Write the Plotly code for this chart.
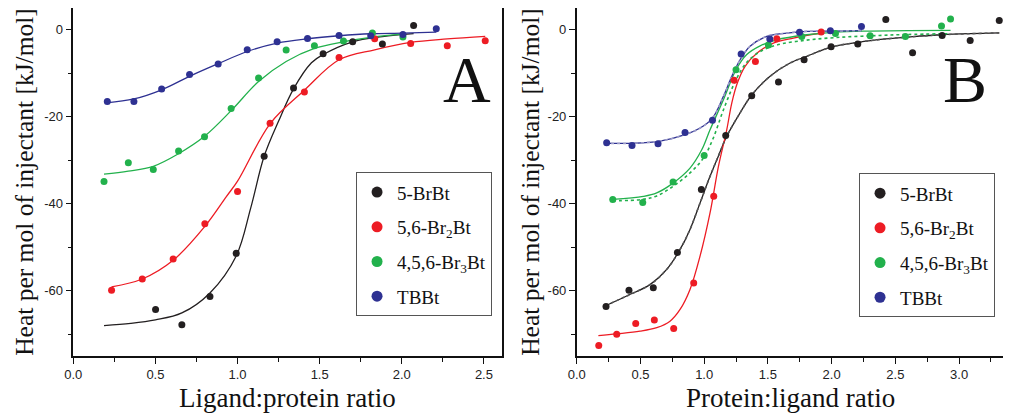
import plotly.graph_objects as go

# ---------------- Data: Panel A (Ligand:protein ratio) ----------------
names = ["5-BrBt", "5,6-Br<sub>2</sub>Bt", "4,5,6-Br<sub>3</sub>Bt", "TBBt"]
colors = ["#231f20", "#ed1c24", "#22b14c", "#2e3192"]

a_black_x = [0.501, 0.661, 0.832, 0.992, 1.162, 1.341, 1.521, 1.701, 1.882, 2.072]
a_black_y = [-64.3, -67.8, -61.3, -51.4, -29.1, -13.4, -5.5, -2.76, -3.3, 1.0]
a_red_x = [0.233, 0.42, 0.608, 0.801, 1.0, 1.198, 1.407, 1.618, 1.835, 2.054, 2.277, 2.508]
a_red_y = [-59.9, -57.3, -52.7, -44.6, -37.2, -21.5, -14.3, -6.4, -2.07, -3.14, -3.67, -2.53]
a_green_x = [0.187, 0.335, 0.487, 0.641, 0.799, 0.961, 1.128, 1.296, 1.468, 1.645, 1.821, 2.007]
a_green_y = [-34.9, -30.6, -32.1, -27.9, -24.6, -18.1, -11.1, -4.67, -3.67, -2.6, -0.77, -1.68]
a_blue_x = [0.207, 0.369, 0.538, 0.708, 0.882, 1.059, 1.241, 1.426, 1.618, 1.811, 2.007, 2.21]
a_blue_y = [-16.5, -16.5, -13.6, -10.3, -7.9, -4.6, -2.76, -2.0, -1.3, -1.4, -1.07, 0.23]

# fitted curves
a_black_fx = [0.187, 0.35, 0.5, 0.661, 0.832, 0.992, 1.08, 1.162, 1.25, 1.341, 1.45, 1.521, 1.701, 1.882, 2.072]
a_black_fy = [-68.0, -67.5, -66.7, -65.1, -60.5, -52.0, -41.0, -29.1, -21.0, -13.6, -7.6, -5.7, -2.76, -1.6, -0.9]
a_red_fx = [0.233, 0.42, 0.608, 0.801, 0.933, 1.0, 1.2, 1.407, 1.618, 1.835, 2.054, 2.277, 2.508]
a_red_fy = [-59.1, -57.3, -53.0, -45.2, -38.3, -34.8, -21.5, -13.9, -6.9, -4.6, -2.9, -2.1, -1.5]
a_green_fx = [0.187, 0.335, 0.487, 0.641, 0.799, 0.961, 1.128, 1.296, 1.468, 1.645, 1.821, 2.007]
a_green_fy = [-33.2, -32.5, -31.4, -28.5, -24.5, -18.6, -11.9, -7.3, -4.3, -2.76, -1.68, -0.99]
a_blue_fx = [0.2, 0.369, 0.538, 0.708, 0.882, 1.059, 1.241, 1.426, 1.618, 1.811, 2.007, 2.21]
a_blue_fy = [-16.8, -15.9, -13.8, -10.7, -7.8, -5.0, -3.06, -2.07, -1.38, -0.92, -0.77, -0.54]

# ---------------- Data: Panel B (Protein:ligand ratio) ----------------
b_black_x = [0.23, 0.41, 0.601, 0.79, 0.978, 1.169, 1.373, 1.583, 1.784, 1.996, 2.205, 2.425, 2.635, 2.867, 3.087, 3.315]
b_black_y = [-63.6, -59.9, -59.3, -51.2, -36.7, -24.3, -15.2, -12.0, -6.9, -3.9, -3.3, 2.37, -5.3, -1.3, -2.45, 2.1]
b_red_x = [0.173, 0.314, 0.463, 0.609, 0.761, 0.918, 1.075, 1.235, 1.402, 1.57, 1.918]
b_red_y = [-72.6, -70.0, -67.5, -66.7, -68.7, -58.2, -38.3, -11.6, -7.3, -2.07, -0.54]
b_green_x = [0.283, 0.518, 0.756, 1.0, 1.25, 1.504, 1.766, 2.03, 2.302, 2.579, 2.862, 2.933]
b_green_y = [-39.0, -39.7, -35.0, -28.9, -9.2, -3.5, -1.53, -0.84, -1.38, -1.53, 0.84, 2.5]
b_blue_x = [0.235, 0.434, 0.638, 0.85, 1.065, 1.29, 1.515, 1.748, 1.99, 2.234]
b_blue_y = [-26.0, -26.6, -26.2, -23.6, -20.8, -5.6, -2.1, -0.6, -0.23, 0.77]

b_black_fx = [0.222, 0.392, 0.575, 0.706, 0.811, 0.889, 0.968, 1.046, 1.112, 1.177, 1.282, 1.373, 1.517,
              1.674, 1.805, 1.996, 2.205, 2.425, 2.635, 2.867, 3.087, 3.315]
b_black_fy = [-63.5, -61.2, -58.6, -55.1, -50.5, -45.9, -39.8, -33.7, -29.0, -24.5, -19.1, -15.0, -10.7,
              -7.65, -6.1, -4.0, -2.9, -2.1, -1.6, -1.15, -0.9, -0.73]
b_red_fx = [0.17, 0.314, 0.497, 0.628, 0.732, 0.811, 0.889, 0.968, 1.046, 1.112, 1.177, 1.217, 1.261,
            1.321, 1.413, 1.543, 1.70, 1.831, 1.918]
b_red_fy = [-70.3, -69.9, -69.3, -68.5, -67.0, -64.3, -59.7, -52.0, -42.1, -31.4, -23.0, -16.8, -12.2,
            -8.4, -5.4, -3.06, -1.9, -1.15, -0.8]
b_green_fx = [0.283, 0.523, 0.628, 0.758, 0.889, 0.981, 1.046, 1.151, 1.25, 1.334, 1.439, 1.57, 1.805,
              2.03, 2.3, 2.6, 2.933]
b_green_fy = [-39.0, -38.3, -37.5, -35.2, -31.8, -27.6, -23.0, -16.1, -9.2, -5.7, -3.7, -2.3, -1.15,
              -0.54, -0.3, -0.2, -0.15]
b_green_dx = [0.283, 0.518, 0.628, 0.756, 0.889, 0.994, 1.07, 1.15, 1.25, 1.334, 1.44, 1.57, 1.8,
              2.03, 2.3, 2.58, 2.93]
b_green_dy = [-39.3, -39.0, -38.2, -36.0, -32.9, -29.5, -25.0, -18.5, -11.5, -7.5, -5.0, -3.5, -2.4,
              -1.8, -1.4, -1.1, -0.9]
b_blue_fx = [0.222, 0.434, 0.654, 0.85, 0.968, 1.065, 1.151, 1.217, 1.282, 1.36, 1.491, 1.648, 1.805, 2.0, 2.234]
b_blue_fy = [-26.1, -26.1, -25.6, -24.1, -22.6, -20.3, -15.3, -10.7, -6.9, -3.8, -1.53, -0.77, -0.38, -0.3, -0.2]

# ---------------- Tick labels ----------------
y_tickvals = [0, -20, -40, -60]
y_ticktext = ["0", "-20", "-40", "-60"]
a_xtickvals = [0.0, 0.5, 1.0, 1.5, 2.0, 2.5]
a_xticktext = ["0.0", "0.5", "1.0", "1.5", "2.0", "2.5"]
b_xtickvals = [0.0, 0.5, 1.0, 1.5, 2.0, 2.5, 3.0]
b_xticktext = ["0.0", "0.5", "1.0", "1.5", "2.0", "2.5", "3.0"]

SERIF = "Liberation Serif, Times New Roman, serif"
SANS = "Liberation Sans, Arial, sans-serif"

fig = go.Figure()

panel_a_fits = [(a_black_fx, a_black_fy), (a_red_fx, a_red_fy), (a_green_fx, a_green_fy), (a_blue_fx, a_blue_fy)]
panel_a_pts = [(a_black_x, a_black_y), (a_red_x, a_red_y), (a_green_x, a_green_y), (a_blue_x, a_blue_y)]
panel_b_fits = [(b_black_fx, b_black_fy), (b_red_fx, b_red_fy), (b_green_fx, b_green_fy), (b_blue_fx, b_blue_fy)]
panel_b_pts = [(b_black_x, b_black_y), (b_red_x, b_red_y), (b_green_x, b_green_y), (b_blue_x, b_blue_y)]

def add_panel(fits, pts, xa, ya, dotted):
    for (fx, fy), c in zip(fits, colors):
        fig.add_trace(go.Scatter(x=fx, y=fy, mode="lines", xaxis=xa, yaxis=ya, showlegend=False,
                                 line=dict(color=c, width=1.3, shape="spline", smoothing=1.0),
                                 hoverinfo="skip"))
    for (dx, dy, c) in dotted:
        fig.add_trace(go.Scatter(x=dx, y=dy, mode="lines", xaxis=xa, yaxis=ya, showlegend=False,
                                 line=dict(color=c, width=1.6, dash="dot", shape="spline", smoothing=1.0),
                                 hoverinfo="skip"))
    for (px, py), c in zip(pts, colors):
        fig.add_trace(go.Scatter(x=px, y=py, mode="markers", xaxis=xa, yaxis=ya, showlegend=False,
                                 marker=dict(color=c, size=7)))

add_panel(panel_a_fits, panel_a_pts, "x", "y", [])
add_panel(panel_b_fits, panel_b_pts, "x2", "y2",
          [(b_black_fx, b_black_fy, "#555555"), (b_green_dx, b_green_dy, colors[2]),
           (b_blue_fx, b_blue_fy, "#9a9ac8")])

# legend entries
for leg, xa, ya in [("legend", "x", "y"), ("legend2", "x2", "y2")]:
    for i, (n, c) in enumerate(zip(names, colors)):
        fig.add_trace(go.Scatter(x=[None], y=[None], mode="markers", name=n, legend=leg,
                                 legendgroup=f"{leg}{i}", xaxis=xa, yaxis=ya,
                                 marker=dict(color=c, size=11)))

axis_common = dict(showline=True, linecolor="#111", linewidth=1.5, mirror=True, ticks="outside",
                   ticklen=6, tickwidth=1.2, tickcolor="#111", showgrid=False, zeroline=False,
                   automargin=False,
                   tickfont=dict(family=SANS, size=13, color="#222"))

title_font = dict(family=SERIF, size=25.5, color="#111")
xtitle_font = dict(family=SERIF, size=27, color="#111")

fig.update_layout(
    width=1003, height=405,
    margin=dict(l=0, r=0, t=0, b=57),
    paper_bgcolor="white", plot_bgcolor="white",
    xaxis=dict(domain=[0.0651, 0.4925], range=[0, 2.61], anchor="y",
               tickvals=a_xtickvals, ticktext=a_xticktext,
               minor=dict(ticks="outside", ticklen=4, dtick=0.25, tick0=0, tickcolor="#111"),
               **axis_common),
    yaxis=dict(domain=[0, 1], range=[-75, 5], anchor="x",
               tickvals=y_tickvals, ticktext=y_ticktext,
               minor=dict(ticks="outside", ticklen=4, dtick=10, tick0=0, tickcolor="#111"),
               title=dict(text="Heat per mol of injectant [kJ/mol]", font=title_font, standoff=3),
               **axis_common),
    xaxis2=dict(domain=[0.567, 0.994], range=[0, 3.36], anchor="y2",
                tickvals=b_xtickvals, ticktext=b_xticktext,
                minor=dict(ticks="outside", ticklen=4, dtick=0.25, tick0=0, tickcolor="#111"),
                **axis_common),
    yaxis2=dict(domain=[0, 1], range=[-75, 5], anchor="x2",
                tickvals=y_tickvals, ticktext=y_ticktext,
                minor=dict(ticks="outside", ticklen=4, dtick=10, tick0=0, tickcolor="#111"),
                title=dict(text="Heat per mol of injectant [kJ/mol]", font=title_font, standoff=1),
                **axis_common),
    legend=dict(x=0.347, y=0.528, xanchor="left", yanchor="top", bgcolor="white",
                bordercolor="#555", borderwidth=1, font=dict(family=SERIF, size=19, color="#111"),
                traceorder="grouped", tracegroupgap=7),
    legend2=dict(x=0.8485, y=0.525, xanchor="left", yanchor="top", bgcolor="white",
                 bordercolor="#555", borderwidth=1, font=dict(family=SERIF, size=19, color="#111"),
                 traceorder="grouped", tracegroupgap=7),
    annotations=[
        dict(text="A", x=0.4576, y=0.7945, xref="paper", yref="paper", xanchor="center", yanchor="middle",
             showarrow=False, font=dict(family=SERIF, size=66, color="#111")),
        dict(text="B", x=0.9541, y=0.7945, xref="paper", yref="paper", xanchor="center", yanchor="middle",
             showarrow=False, font=dict(family=SERIF, size=66, color="#111")),
        dict(text="Ligand:protein ratio", x=0.2787, y=-0.12, xref="paper", yref="paper",
             xanchor="center", yanchor="middle", showarrow=False, font=xtitle_font),
        dict(text="Protein:ligand ratio", x=0.7802, y=-0.12, xref="paper", yref="paper",
             xanchor="center", yanchor="middle", showarrow=False, font=xtitle_font),
    ],
)

fig.write_html("out.html")
